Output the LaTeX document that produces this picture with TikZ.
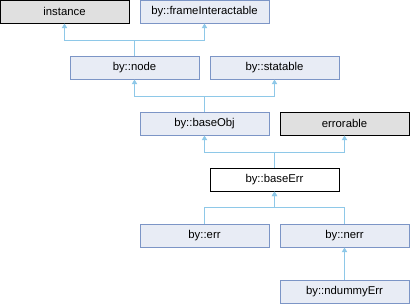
\documentclass[tikz,border=0pt]{standalone}
\usepackage{fontspec}
\setmainfont{Liberation Sans}
\usepackage{tikz}
\usetikzlibrary{arrows.meta,positioning}
\definecolor{clsfill}{RGB}{232,236,245}
\definecolor{clsdraw}{RGB}{124,149,198}
\definecolor{extfill}{RGB}{224,224,224}
\definecolor{inhline}{RGB}{142,200,232}

\begin{document}
\begin{tikzpicture}[x=0.75pt,y=-0.75pt,font=\fontsize{8.5}{10}\selectfont,
  box/.style={rectangle,minimum width=96.75pt,minimum height=17.25pt,inner sep=0pt,line width=0.75pt},
  cls/.style={box,draw=clsdraw,fill=clsfill},
  ext/.style={box,draw=black,fill=extfill},
  cur/.style={box,draw=black,fill=white},
  inh/.style={draw=inhline,line width=0.75pt,-{Triangle[width=4pt,length=3.5pt]}}]
  \useasboundingbox (0,0) rectangle (410,304);
  % classes
  \node[ext] (instance) at (64.5,11.5) {instance};
  \node[cls] (frameinter) at (204.5,11.5) {by::frameInteractable};
  \node[cls] (node) at (134.5,67.5) {by::node};
  \node[cls] (statable) at (274.5,67.5) {by::statable};
  \node[cls] (baseobj) at (204.5,123.5) {by::baseObj};
  \node[ext] (errorable) at (344.5,123.5) {errorable};
  \node[cur] (baseerr) at (274.5,179.5) {by::baseErr};
  \node[cls] (err) at (204.5,235.5) {by::err};
  \node[cls] (nerr) at (344.5,235.5) {by::nerr};
  \node[cls] (ndummy) at (344.5,291.5) {by::ndummyErr};
  % bus lines
  \coordinate (bus1) at (134.5,40.5);
  \coordinate (bus2) at (204.5,96.5);
  \coordinate (bus3) at (274.5,152.5);
  \coordinate (bus4) at (274.5,207.5);
  % inheritance
  \draw[inh] (node.north) |- (bus1) -| (instance.south);
  \draw[inh] (node.north) |- (bus1) -| (frameinter.south);
  \draw[inh] (baseobj.north) |- (bus2) -| (node.south);
  \draw[inh] (baseobj.north) |- (bus2) -| (statable.south);
  \draw[inh] (baseerr.north) |- (bus3) -| (baseobj.south);
  \draw[inh] (baseerr.north) |- (bus3) -| (errorable.south);
  \draw[inh] (err.north) |- (bus4) -| (baseerr.south);
  \draw[inh] (nerr.north) |- (bus4) -| (baseerr.south);
  \draw[inh] (ndummy.north) -- (nerr.south);
\end{tikzpicture}
\end{document}
